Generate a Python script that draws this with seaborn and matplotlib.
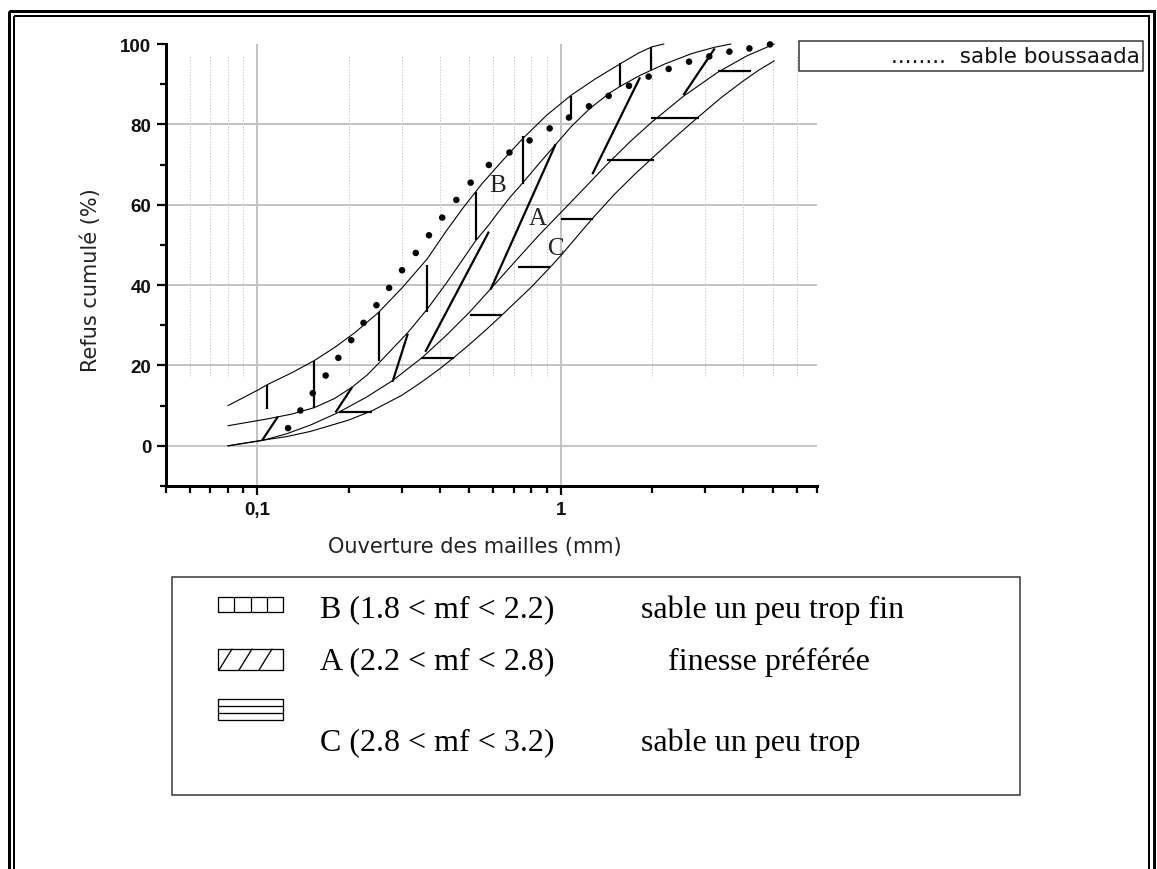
import numpy as np
import pandas as pd
import matplotlib
matplotlib.use("Agg")
import matplotlib.pyplot as plt
import seaborn as sns
from matplotlib.ticker import FixedLocator, FixedFormatter, NullFormatter, LogLocator
from matplotlib.patches import Rectangle

# ---------------- data ----------------
# boundary curves: opening (mm) -> cumulative retained (%)
curve1_x = [0.08, 0.10, 0.1077, 0.13, 0.154, 0.18, 0.21, 0.251, 0.30, 0.363, 0.42, 0.48, 0.55, 0.64, 0.751, 0.90, 1.085, 1.30, 1.566, 1.80, 2.00, 2.19]
curve1_y = [10.0, 13.8, 15.2, 18.2, 21.2, 24.5, 28.2, 33.2, 39.3, 46.5, 53.5, 59.5, 65.2, 70.8, 76.5, 82.3, 87.3, 91.3, 95.0, 97.7, 99.3, 100.0]

curve2_x = [0.08, 0.108, 0.13, 0.154, 0.18, 0.2054, 0.23, 0.251, 0.28, 0.3135, 0.363, 0.42, 0.48, 0.524, 0.58, 0.618, 0.68, 0.751, 0.85, 0.963, 1.085, 1.25, 1.45, 1.566, 1.827, 2.2, 2.7, 3.22, 3.64]
curve2_y = [5.0, 6.7, 7.9, 9.5, 11.8, 14.6, 17.6, 20.5, 24.3, 28.2, 34.0, 40.5, 46.8, 51.0, 55.0, 57.8, 61.8, 65.5, 70.3, 75.0, 79.5, 84.0, 87.8, 89.4, 92.2, 95.0, 97.6, 99.2, 100.0]

curve3_x = [0.08, 0.1036, 0.125, 0.15, 0.185, 0.23, 0.28, 0.35, 0.42, 0.50, 0.59, 0.72, 0.85, 1.0, 1.2, 1.42, 1.7, 2.0, 2.54, 3.3, 4.1, 5.06]
curve3_y = [0.0, 1.3, 3.0, 5.2, 8.3, 12.2, 16.3, 22.0, 27.5, 33.2, 39.2, 46.5, 52.5, 58.0, 64.2, 70.0, 75.8, 80.6, 87.0, 93.0, 97.0, 100.0]

curve4_x = [0.08, 0.10, 0.125, 0.15, 0.20, 0.24, 0.30, 0.35, 0.40, 0.445, 0.50, 0.57, 0.65, 0.80, 0.92, 1.0, 1.13, 1.26, 1.5, 1.75, 2.03, 2.4, 2.86, 3.4, 4.0, 4.5, 5.06]
curve4_y = [0.0, 1.2, 2.3, 3.6, 6.4, 8.8, 12.6, 16.0, 19.2, 22.0, 25.2, 29.0, 33.0, 39.5, 44.3, 47.3, 52.0, 56.2, 62.5, 67.5, 72.0, 77.0, 82.0, 86.8, 90.8, 93.5, 95.8]

# "sable boussaada" dotted curve (each dot)
dots_x = [0.1263, 0.1387, 0.1523, 0.168, 0.185, 0.204, 0.224, 0.247, 0.272, 0.30, 0.333, 0.368, 0.407,
          0.453, 0.505, 0.58, 0.678, 0.79, 0.92, 1.065, 1.24, 1.44, 1.68, 1.95, 2.27, 2.65, 3.09, 3.6, 4.19, 4.9]
dots_y = [4.4, 8.8, 13.1, 17.5, 21.9, 26.3, 30.6, 35.0, 39.3, 43.7, 48.0, 52.4, 56.8,
          61.2, 65.5, 69.9, 73.0, 76.0, 79.0, 81.7, 84.5, 87.1, 89.6, 91.9, 93.8, 95.6, 96.9, 98.1, 98.9, 99.9]

# zone B hatching (vertical strokes)
hatch_b_x = [0.1077, 0.154, 0.251, 0.363, 0.524, 0.751, 1.085, 1.566, 1.99]
hatch_b_top = [15.2, 21.2, 33.2, 45.1, 63.2, 77.1, 87.1, 95.2, 99.2]
hatch_b_bot = [9.2, 9.3, 21.0, 33.2, 51.2, 65.2, 81.3, 89.2, 93.6]

# zone A hatching (oblique strokes)
hatch_a_x1 = [0.1036, 0.181, 0.279, 0.358, 0.5875, 1.272, 2.54]
hatch_a_y1 = [1.3, 8.3, 15.9, 23.4, 38.9, 67.6, 87.3]
hatch_a_x2 = [0.117, 0.2054, 0.3135, 0.58, 0.963, 1.827, 3.22]
hatch_a_y2 = [7.3, 14.6, 27.9, 53.3, 75.1, 91.7, 98.9]

# zone C hatching (horizontal strokes)
hatch_c_y = [8.3, 21.9, 32.6, 44.6, 56.5, 71.2, 81.6, 93.2]
hatch_c_x1 = [0.1855, 0.347, 0.502, 0.723, 1.0, 1.418, 1.99, 3.31]
hatch_c_x2 = [0.239, 0.445, 0.642, 0.922, 1.282, 2.03, 2.86, 4.24]

zone_labels = ["B", "A", "C"]
zone_label_x = [0.62, 0.84, 0.97]
zone_label_y = [64.8, 56.8, 49.3]

x_major = [0.1, 1]
x_major_labels = ["0,1", "1"]
y_major = [0, 20, 40, 60, 80, 100]
y_minor = [-10, 10, 30, 50, 70, 90]
h_grid = [0, 20, 40, 60, 80]
v_minor_grid = [0.06, 0.07, 0.08, 0.09, 0.2, 0.3, 0.4, 0.5, 0.6, 0.7, 0.8, 0.9, 2, 3, 4, 5, 6]

legend_rows = ["B (1.8 < mf < 2.2)", "A (2.2 < mf < 2.8)", "C (2.8 < mf < 3.2)"]
legend_desc = ["sable un peu trop fin", "finesse préférée", "sable un peu trop"]

# ---------------- figure ----------------
sns.set_style("white")
plt.rcParams["font.family"] = ["Liberation Sans", "DejaVu Sans"]

W, H = 1157, 870
PT = 0.72  # points per pixel at 100 dpi
fig = plt.figure(figsize=(W / 100, H / 100), dpi=100)
ax = fig.add_axes([166 / W, 1 - 487 / H, 651 / W, 442 / H])

ax.set_xscale("log")
ax.set_xlim(0.05, 7)
ax.set_ylim(-10, 100)

grid_c = "#c4c4c4"
ax.hlines(h_grid, 0.05, 7, color=grid_c, lw=2 * PT, zorder=0)
ax.vlines(x_major, -10, 100, color=grid_c, lw=2 * PT, zorder=0)
ax.vlines(v_minor_grid, 17.5, 97, color="#cfcfcf", lw=1 * PT, linestyles=(0, (1.5, 1.5)), zorder=0)

for cx, cy in [(curve1_x, curve1_y), (curve2_x, curve2_y), (curve3_x, curve3_y), (curve4_x, curve4_y)]:
    sns.lineplot(x=cx, y=cy, ax=ax, color="black", lw=1.1 * PT, sort=False, estimator=None, clip_on=False)

sns.scatterplot(x=dots_x, y=dots_y, ax=ax, color="black", s=22, marker="o", edgecolor="none",
                clip_on=False, zorder=5)

hl = 2.2 * PT
ax.vlines(hatch_b_x, hatch_b_bot, hatch_b_top, color="black", lw=hl)
ax.hlines(hatch_c_y, hatch_c_x1, hatch_c_x2, color="black", lw=hl)
for x1, y1, x2, y2 in zip(hatch_a_x1, hatch_a_y1, hatch_a_x2, hatch_a_y2):
    ax.plot([x1, x2], [y1, y2], color="black", lw=hl, solid_capstyle="butt")

for t, lx, ly in zip(zone_labels, zone_label_x, zone_label_y):
    ax.text(lx, ly, t, family="Liberation Serif", fontsize=18, ha="center", va="center", color="#222222")

# axes styling
for s in ["top", "right"]:
    ax.spines[s].set_visible(False)
for s in ["left", "bottom"]:
    ax.spines[s].set_linewidth(3 * PT)
    ax.spines[s].set_color("black")
ax.xaxis.set_major_locator(FixedLocator(x_major))
ax.xaxis.set_major_formatter(FixedFormatter(x_major_labels))
ax.xaxis.set_minor_locator(LogLocator(base=10, subs=np.arange(2, 10), numticks=20))
ax.xaxis.set_minor_formatter(NullFormatter())
ax.yaxis.set_major_locator(FixedLocator(y_major))
ax.yaxis.set_minor_locator(FixedLocator(y_minor))
ax.tick_params(which="both", bottom=True, left=True, top=False, right=False)
ax.tick_params(which="major", direction="out", length=9 * PT, width=2.2 * PT, color="black",
               labelsize=13.5, pad=4)
ax.tick_params(which="minor", direction="out", length=6.5 * PT, width=2.2 * PT, color="black")
for lab in ax.get_xticklabels() + ax.get_yticklabels():
    lab.set_fontweight("bold")
    lab.set_family("Liberation Sans")
    lab.set_color("#111111")

ax.set_xlabel("Ouverture des mailles (mm)", family="DejaVu Sans", fontsize=15, color="#222222")
ax.set_ylabel("Refus cumulé (%)", family="DejaVu Sans", fontsize=15, color="#222222")
ax.xaxis.set_label_coords((475 - 166) / 651, (487 - 537) / 442)
ax.yaxis.set_label_coords((101 - 166) / 651, (487 - 280) / 442)
ax.grid(False)

# ---------------- overlay in pixel coordinates ----------------
ov = fig.add_axes([0, 0, 1, 1], zorder=10)
ov.set_xlim(0, W)
ov.set_ylim(H, 0)
ov.axis("off")
ov.patch.set_alpha(0)

# double page frame
ov.add_patch(Rectangle((9, 12), 1145, 880, fill=False, ec="black", lw=3 * PT))
ov.add_patch(Rectangle((14, 16.5), 1135, 880, fill=False, ec="black", lw=2 * PT))

# top-right legend
ov.add_patch(Rectangle((798.5, 42), 344, 30, fill=False, ec="#333333", lw=1.5 * PT))
ov.text(1140, 57, "........  sable boussaada", family="DejaVu Sans", fontsize=15.5, ha="right", va="center",
        color="#111111")

# bottom legend box
ov.add_patch(Rectangle((172, 578), 848, 218, fill=False, ec="#333333", lw=1.5 * PT))
icon_y = [598, 650, 700]
ih = 15
# B icon: vertical divisions
ov.add_patch(Rectangle((218, icon_y[0]), 65, ih, fill=False, ec="black", lw=1.3 * PT))
for k in range(1, 4):
    ov.plot([218 + k * 65 / 4] * 2, [icon_y[0], icon_y[0] + ih], color="black", lw=1.3 * PT)
# A icon: oblique divisions
ov.add_patch(Rectangle((218, icon_y[1]), 65, ih + 6, fill=False, ec="black", lw=1.3 * PT))
for k in range(3):
    xb = 219 + k * 20
    ov.plot([xb, xb + 13], [icon_y[1] + ih + 6, icon_y[1]], color="black", lw=1.3 * PT)
# C icon: horizontal divisions
ov.add_patch(Rectangle((218, icon_y[2]), 65, ih + 6, fill=False, ec="black", lw=1.3 * PT))
for k in range(1, 3):
    ov.plot([218, 283], [icon_y[2] + k * 7, icon_y[2] + k * 7], color="black", lw=1.3 * PT)

row_y = [610, 662, 743]
desc_x = [641, 668, 641]
for t, d, ry, dx in zip(legend_rows, legend_desc, row_y, desc_x):
    ov.text(320, ry, t, family="Liberation Serif", fontsize=23, ha="left", va="center", color="black")
    ov.text(dx, ry, d, family="Liberation Serif", fontsize=23, ha="left", va="center", color="black")

fig.savefig("out.png", dpi=100, facecolor="white")
